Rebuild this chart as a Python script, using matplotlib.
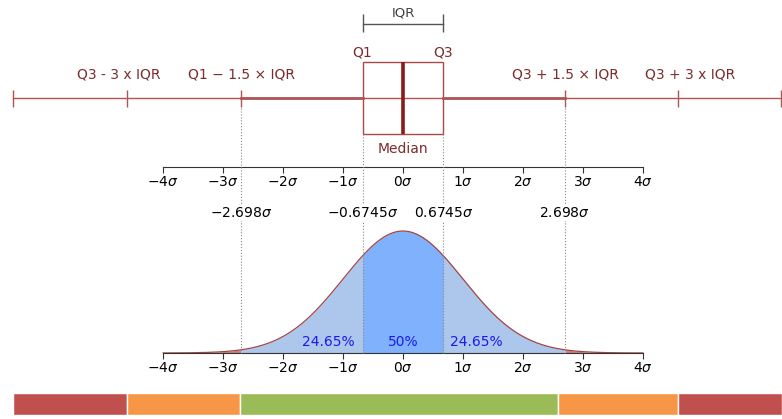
import numpy as np
import matplotlib.pyplot as plt
from matplotlib.patches import Rectangle
from matplotlib.ticker import FixedLocator, FuncFormatter

# box plot values, in units of sigma
q1, median, q3 = -0.6745, 0.0, 0.6745
whisk_in = [-2.698, 2.698]          # Q1 - 1.5 IQR / Q3 + 1.5 IQR
whisk_out = [-4.6, 4.58]            # 3 IQR fences as drawn
line_ends = [-6.5, 6.3]
whisk_labels = ["Q3 - 3 x IQR", "Q1 \u2212 1.5 \u00d7 IQR",
                "Q3 + 1.5 \u00d7 IQR", "Q3 + 3 x IQR"]
whisk_label_x = [-4.73, -2.7, 2.7, 4.78]

# sigma axes
sigma_ticks = [-4, -3, -2, -1, 0, 1, 2, 3, 4]
marked_sigma = [-2.698, -0.6745, 0.6745, 2.698]
marked_labels = [r"$-2.698\sigma$", r"$-0.6745\sigma$",
                 r"$0.6745\sigma$", r"$2.698\sigma$"]
pct_labels = ["24.65%", "50%", "24.65%"]
pct_x = [-1.25, 0.0, 1.23]

# coloured band at the bottom
band_edges = [-6.5, -4.6, -2.717, 2.583, 4.583, 6.32]
band_colors = ["#c0504d", "#f79646", "#9bbb59", "#f79646", "#c0504d"]

# layout (pixels)
W, H = 782, 419
X0, PX = 403, 60.0
XLIM = (-X0 / PX, (W - X0) / PX)
DARK = "#7b2c2c"
WHISK = "#b05555"


def rect(top, height):
    return [0, 1 - (top + height) / H, 1, height / H]


def sigma_axis(ax):
    ax.set_xlim(XLIM)
    for s in ["left", "right", "top"]:
        ax.spines[s].set_visible(False)
    ax.spines["bottom"].set_bounds(-4, 4)
    ax.spines["bottom"].set_color("#333333")
    ax.set_yticks([])
    ax.xaxis.set_major_locator(FixedLocator(sigma_ticks))
    ax.xaxis.set_major_formatter(FuncFormatter(lambda v, p: r"$%d\sigma$" % v))
    ax.tick_params(axis="x", length=4, pad=1.5, labelsize=10, color="#333333")
    ax.patch.set_alpha(0)


fig = plt.figure(figsize=(W / 100, H / 100), dpi=100)

# normal pdf
ax_pdf = fig.add_axes(rect(224.6, 128.4))
sigma_axis(ax_pdf)
ax_pdf.set_ylim(0, 0.42)
x = np.linspace(-4, 4, 801)
pdf = np.exp(-x ** 2 / 2) / np.sqrt(2 * np.pi)
ax_pdf.fill_between(x, pdf, where=(x >= whisk_in[0]) & (x <= whisk_in[1]),
                    color="#adc6eb", lw=0)
ax_pdf.fill_between(x, pdf, where=(x >= q1) & (x <= q3), color="#7fb1fc", lw=0)
ax_pdf.fill_between(x, pdf, where=(x <= whisk_in[0]), color="#c98080", lw=0)
ax_pdf.fill_between(x, pdf, where=(x >= whisk_in[1]), color="#c98080", lw=0)
ax_pdf.plot(x, pdf, color="#a04545", lw=0.9)

# top sigma scale
ax_top = fig.add_axes(rect(166, 1))
sigma_axis(ax_top)

# overlay in pixel rows
ax = fig.add_axes([0, 0, 1, 1], zorder=5)
ax.set_xlim(XLIM)
ax.set_ylim(H, 0)
ax.axis("off")
ax.patch.set_alpha(0)

# dotted guides
ax.vlines(whisk_in, 108, 353, colors="#888888", lw=0.8, linestyles=":")
ax.vlines([q1, q3], 134, 353, colors="#888888", lw=0.8, linestyles=":")

# whiskers
ax.plot(line_ends, [98, 98], color=WHISK, lw=1.0)
ax.plot([whisk_in[0], q1], [98, 98], color=WHISK, lw=2.0)
ax.plot([q3, whisk_in[1]], [98, 98], color=WHISK, lw=2.0)
ax.vlines(line_ends + whisk_out + whisk_in, 90, 107, colors=WHISK, lw=1.0)

# box
ax.add_patch(Rectangle((q1, 62), q3 - q1, 72, facecolor="white",
                       edgecolor="#a84a4a", lw=1.0))
ax.vlines(median, 62, 134, colors="#8b1a1a", lw=2.6)
ax.text(q1, 52, "Q1", ha="center", va="center", fontsize=10, color=DARK)
ax.text(q3, 52, "Q3", ha="center", va="center", fontsize=10, color=DARK)
ax.text(median, 149, "Median", ha="center", va="center", fontsize=10, color=DARK)
for lx, lab in zip(whisk_label_x, whisk_labels):
    ax.text(lx, 74, lab, ha="center", va="center", fontsize=10, color=DARK)

# IQR bracket
ax.plot([q1, q3], [24, 24], color="#555555", lw=1.0)
ax.vlines([q1, q3], 14, 32, colors="#555555", lw=1.0)
ax.text(median, 13, "IQR", ha="center", va="center", fontsize=9.5, color="#404040")

# marked sigma values
for sx, lab in zip(marked_sigma, marked_labels):
    ax.text(sx, 213, lab, ha="center", va="center", fontsize=10, color="black",
            bbox=dict(facecolor="white", edgecolor="none", pad=0.5))

for px_, lab in zip(pct_x, pct_labels):
    ax.text(px_, 342, lab, ha="center", va="center", fontsize=10, color="#1a1aee")

# bottom band
lefts = band_edges[:-1]
widths = np.diff(band_edges)
ax.barh([404] * len(lefts), widths, left=lefts, height=22, color=band_colors,
        edgecolor="white", lw=1.0)

fig.savefig("out.png", dpi=100)
